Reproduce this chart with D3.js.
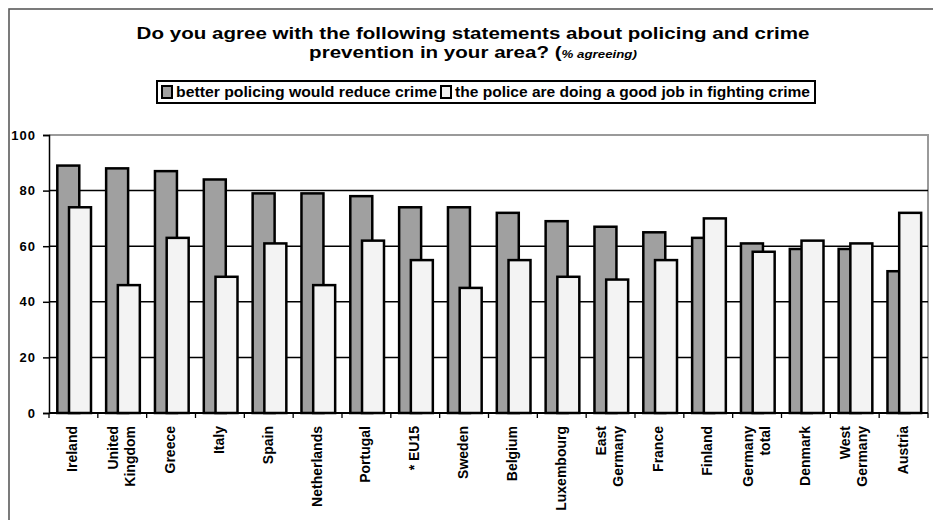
<!DOCTYPE html>
<html>
<head>
<meta charset="utf-8">
<script src="https://cdn.jsdelivr.net/npm/d3@7"></script>
<style>
  html, body { margin: 0; padding: 0; background: #fff; }
  svg { display: block; font-family: "Liberation Sans", Arial, sans-serif; }
</style>
</head>
<body>
<svg id="chart" width="933" height="520"></svg>
<script>
// Survey results: share of respondents agreeing, by country
const categories = [
  "Ireland", "United\nKingdom", "Greece", "Italy", "Spain", "Netherlands",
  "Portugal", "* EU15", "Sweden", "Belgium", "Luxembourg", "East\nGermany",
  "France", "Finland", "Germany\ntotal", "Denmark", "West\nGermany", "Austria"
];
const betterPolicing = [89, 88, 87, 84, 79, 79, 78, 74, 74, 72, 69, 67, 65, 63, 61, 59, 59, 51];
const goodJob        = [74, 46, 63, 49, 61, 46, 62, 55, 45, 55, 49, 48, 55, 70, 58, 62, 61, 72];
const seriesNames = [
  "better policing would reduce crime",
  "the police are doing a good job in fighting crime"
];
const yTicks = [0, 20, 40, 60, 80, 100];

const svg = d3.select("#chart");
const plotL = 49, plotR = 928, plotT = 135, plotB = 413;

const x = d3.scaleBand().domain(categories).range([plotL, plotR]).paddingInner(0).paddingOuter(0);
const y = d3.scaleLinear().domain([0, 100]).range([plotB, plotT]);
const bw = x.bandwidth();

// outer frame
svg.append("rect")
  .attr("x", 9).attr("y", 9).attr("width", 960).attr("height", 560)
  .attr("fill", "none").attr("stroke", "#5a5a5a").attr("stroke-width", 1.6);

// title (wide bold face)
const titleCx = 473;
const title = svg.append("g")
  .attr("font-weight", "bold").attr("fill", "#000")
  .attr("transform", `translate(${titleCx},0) scale(1.21,1) translate(${-titleCx},0)`);
title.append("text")
  .attr("x", titleCx).attr("y", 39).attr("text-anchor", "middle").attr("font-size", 17)
  .text("Do you agree with the following statements about policing and crime");
const t2 = title.append("text")
  .attr("x", titleCx).attr("y", 58).attr("text-anchor", "middle").attr("font-size", 17);
t2.append("tspan").text("prevention in your area? (");
t2.append("tspan").attr("font-size", 11).attr("font-style", "italic").text("% agreeing)");

// plot frame (top and right edges)
svg.append("path")
  .attr("d", `M${plotL},${y(100)}H${plotR}V${plotB}`)
  .attr("fill", "none").attr("stroke", "#9a9a9a").attr("stroke-width", 2);

// gridlines
svg.append("g").selectAll("line")
  .data(yTicks.filter(d => d > 0 && d < 100))
  .join("line")
  .attr("x1", plotL).attr("x2", plotR)
  .attr("y1", d => y(d)).attr("y2", d => y(d))
  .attr("stroke", "#000").attr("stroke-width", 1.5);

// bars
const barW = bw * 0.45;
const groups = svg.append("g").selectAll("g")
  .data(categories.map((c, i) => ({ c, a: betterPolicing[i], b: goodJob[i] })))
  .join("g");
groups.append("rect")
  .attr("x", d => x(d.c) + bw * 0.17)
  .attr("y", d => y(d.a))
  .attr("width", barW)
  .attr("height", d => y(0) - y(d.a))
  .attr("fill", "#a0a0a0").attr("stroke", "#000").attr("stroke-width", 2.5);
groups.append("rect")
  .attr("x", d => x(d.c) + bw * 0.41)
  .attr("y", d => y(d.b))
  .attr("width", barW)
  .attr("height", d => y(0) - y(d.b))
  .attr("fill", "#f3f3f3").attr("stroke", "#000").attr("stroke-width", 2.5);

// y axis
const yAxis = svg.append("g")
  .attr("transform", `translate(${plotL},0)`)
  .call(d3.axisLeft(y).tickValues(yTicks).tickSize(6).tickPadding(7).tickFormat(d3.format("d")));
yAxis.select(".domain").attr("stroke", "#000").attr("stroke-width", 1.5);
yAxis.selectAll(".tick line").attr("stroke", "#000").attr("stroke-width", 1.5);
yAxis.selectAll(".tick text")
  .attr("font-family", "'Liberation Sans', Arial, sans-serif")
  .attr("font-size", 13).attr("font-weight", "bold").attr("letter-spacing", 1)
  .attr("fill", "#000");

// x axis
const xTickPos = categories.map(c => x(c)).concat([plotR]);
svg.append("line")
  .attr("x1", plotL).attr("x2", plotR).attr("y1", plotB).attr("y2", plotB)
  .attr("stroke", "#000").attr("stroke-width", 2);
svg.append("g").selectAll("line")
  .data(xTickPos)
  .join("line")
  .attr("x1", d => d).attr("x2", d => d)
  .attr("y1", plotB).attr("y2", plotB + 5)
  .attr("stroke", "#000").attr("stroke-width", 1.3);

// rotated category labels
const lineGap = 17;
const labels = svg.append("g").attr("font-size", 14).attr("font-weight", "bold").attr("fill", "#000");
categories.forEach(c => {
  const lines = c.split("\n");
  const cx = x(c) + bw / 2 - 1;
  lines.forEach((ln, i) => {
    const lx = cx + (i - (lines.length - 1) / 2) * lineGap + 5;
    labels.append("text")
      .attr("transform", `translate(${lx},426) rotate(-90)`)
      .attr("text-anchor", "end")
      .text(ln);
  });
});

// legend
const legend = svg.append("g");
legend.append("rect")
  .attr("x", 157).attr("y", 81).attr("width", 658).attr("height", 22)
  .attr("fill", "#fff").attr("stroke", "#000").attr("stroke-width", 2);
const lg = legend.append("g").attr("font-size", 14).attr("font-weight", "bold");
const swatch = (sx, fill) => lg.append("rect")
  .attr("x", sx).attr("y", 86).attr("width", 10).attr("height", 12)
  .attr("fill", fill).attr("stroke", "#000").attr("stroke-width", 2);
swatch(162, "#a0a0a0");
lg.append("text").attr("x", 176).attr("y", 97)
  .attr("textLength", 261).attr("lengthAdjust", "spacingAndGlyphs").text(seriesNames[0]);
swatch(441, "#f3f3f3");
lg.append("text").attr("x", 455).attr("y", 97)
  .attr("textLength", 355).attr("lengthAdjust", "spacingAndGlyphs").text(seriesNames[1]);
</script>
</body>
</html>
